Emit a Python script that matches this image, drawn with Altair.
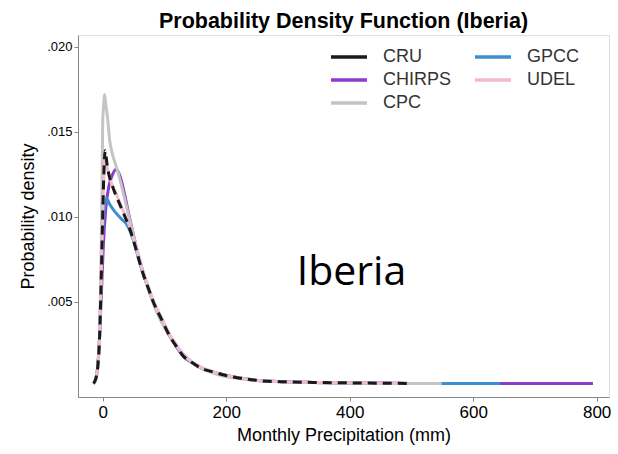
import altair as alt
import pandas as pd

# ---- data ----
series_order = ["CRU", "CHIRPS", "CPC", "GPCC", "UDEL"]  # legend fill order (column-major)
series_colors = ["#1a1a1a", "#8a3dc8", "#c4c4c4", "#3d8fd1", "#f2bcd0"]

cru_x = [-15, -11, -8, -5, -3, -1, 1, 3, 4, 7, 10, 15, 20, 27, 35, 42, 50, 57, 65, 73, 82, 95, 107, 119, 131, 144, 160, 177, 195, 210, 235, 258, 290, 340, 400, 450, 501]
cru_y = [0.0002, 0.0005, 0.0012, 0.003, 0.0055, 0.0085, 0.0115, 0.0135, 0.0139, 0.0131, 0.0125, 0.0119, 0.0114, 0.0108, 0.0101, 0.0095, 0.0086, 0.0077, 0.0067, 0.0059, 0.0050, 0.0040, 0.0031, 0.0024, 0.0018, 0.00145, 0.0011, 0.0009, 0.00072, 0.0006, 0.00045, 0.00036, 0.00031, 0.00027, 0.00024, 0.00022, 0.00021]

udel_x = [-15, -11, -8, -5, -3, -1, 1, 3, 4, 7, 10, 15, 20, 27, 35, 42, 50, 57, 65, 73, 82, 95, 107, 119, 131, 144, 160, 177, 195, 210, 235, 258, 290, 340, 400, 480]
udel_y = [0.0002, 0.0005, 0.0012, 0.0031, 0.0056, 0.0086, 0.0114, 0.0133, 0.0136, 0.0130, 0.0125, 0.0119, 0.0115, 0.0109, 0.0102, 0.0096, 0.0087, 0.0078, 0.0068, 0.0060, 0.0051, 0.0041, 0.0032, 0.0025, 0.0019, 0.0015, 0.00115, 0.00092, 0.00073, 0.00061, 0.00046, 0.00037, 0.00031, 0.00027, 0.00024, 0.00021]

cpc_x = [-15, -11, -8, -5, -3, -1, 0, 2, 3, 5, 8, 11, 15, 19, 25, 32, 40, 50, 60, 70, 80, 90, 100, 112, 124, 137, 150, 165, 180, 195, 210, 235, 258, 290, 340, 400, 450, 500, 549]
cpc_y = [0.0002, 0.0005, 0.0012, 0.0032, 0.0065, 0.0120, 0.0155, 0.0168, 0.0172, 0.0166, 0.0158, 0.0146, 0.0138, 0.0133, 0.0126, 0.0116, 0.0104, 0.0089, 0.0075, 0.0062, 0.0051, 0.0042, 0.0035, 0.0028, 0.0022, 0.0017, 0.0013, 0.0010, 0.0008, 0.00065, 0.00055, 0.00042, 0.00035, 0.0003, 0.00026, 0.00024, 0.00022, 0.00021, 0.0002]

chirps_x = [-15, -11, -8, -5, -2, 1, 5, 10, 16, 22, 28, 35, 42, 50, 57, 65, 73, 82, 95, 107, 119, 131, 144, 160, 177, 195, 210, 235, 258, 290, 340, 400, 500, 600, 700, 794]
chirps_y = [0.0002, 0.0005, 0.0012, 0.003, 0.0056, 0.0083, 0.0105, 0.0118, 0.0125, 0.0128, 0.0124, 0.0114, 0.0102, 0.0089, 0.0078, 0.0068, 0.0059, 0.0050, 0.0040, 0.0031, 0.0024, 0.0018, 0.00145, 0.0011, 0.0009, 0.00072, 0.0006, 0.00045, 0.00036, 0.00031, 0.00027, 0.00024, 0.00021, 0.0002, 0.0002, 0.0002]

gpcc_x = [-15, -11, -8, -5, -3, -1, 2, 6, 12, 20, 30, 40, 45, 50, 57, 65, 73, 82, 95, 107, 119, 131, 144, 160, 177, 195, 210, 235, 258, 290, 340, 400, 500, 600, 643]
gpcc_y = [0.0002, 0.0005, 0.0012, 0.003, 0.0055, 0.0082, 0.0102, 0.0111, 0.0107, 0.0103, 0.0099, 0.0095, 0.0091, 0.0086, 0.0077, 0.0067, 0.0059, 0.0050, 0.0040, 0.0031, 0.0024, 0.0018, 0.00145, 0.0011, 0.0009, 0.00072, 0.0006, 0.00045, 0.00036, 0.00031, 0.00027, 0.00024, 0.00021, 0.0002, 0.0002]

x_ticks = [0, 200, 400, 600, 800]
y_ticks = [0.005, 0.010, 0.015, 0.020]

annot_text = ["Iberia"]
annot_x = [403]
annot_y = [0.0060]

# ---- build tables ----
frames = []
for name, xs, ys in [("CRU", cru_x, cru_y), ("UDEL", udel_x, udel_y), ("CPC", cpc_x, cpc_y),
                     ("CHIRPS", chirps_x, chirps_y), ("GPCC", gpcc_x, gpcc_y)]:
    frames.append(pd.DataFrame({"series": name, "precip": xs, "density": ys}))
df = pd.concat(frames, ignore_index=True)
annot = pd.DataFrame({"label": annot_text, "x": annot_x, "y": annot_y})

color_scale = alt.Scale(domain=series_order, range=series_colors)
x_enc = alt.X("precip:Q", scale=alt.Scale(domain=[-40, 820], nice=False, zero=False),
              axis=alt.Axis(values=x_ticks, title="Monthly Precipitation (mm)", grid=False,
                            labelFontSize=17, titleFontSize=18, tickSize=4, labelPadding=3,
                            titlePadding=6, titleFontWeight="normal"))
y_enc = alt.Y("density:Q", scale=alt.Scale(domain=[-0.00059, 0.0207], nice=False, zero=False),
              axis=alt.Axis(values=y_ticks, title="Probability density", grid=False,
                            labelExpr="replace(format(datum.value, '.3f'), '0.', '.')",
                            labelFontSize=13, titleFontSize=18, tickSize=4, labelPadding=2,
                            titlePadding=9, titleFontWeight="normal"))

legend = alt.Legend(title=None, orient="none", legendX=260, legendY=11, columns=2,
                    direction="vertical", symbolType="M-2,0L2,0", symbolSize=324,
                    symbolStrokeWidth=3.5, symbolDash=[1, 0], labelFontSize=18,
                    labelColor="#333333", labelFont="Liberation Sans", labelOffset=23,
                    columnPadding=16, rowPadding=3, padding=0)

layers = []
draw_order = ["CHIRPS", "GPCC", "CPC", "UDEL", "CRU"]
for name in draw_order:
    mark_kwargs = dict(strokeWidth=3, interpolate="monotone")
    if name == "CRU":
        mark_kwargs["strokeDash"] = [9, 6]
    layer = alt.Chart(df).transform_filter(alt.datum.series == name).mark_line(**mark_kwargs).encode(
        x=x_enc, y=y_enc,
        color=alt.Color("series:N", scale=color_scale, legend=legend),
    )
    layers.append(layer)

text = alt.Chart(annot).mark_text(font="Open Sans", fontSize=41, align="center",
                                   baseline="alphabetic", color="black").encode(
    x=alt.X("x:Q"), y=alt.Y("y:Q"), text="label:N")

chart = alt.layer(*layers, text).properties(
    width=531, height=362,
    title=alt.TitleParams("Probability Density Function  (Iberia)", fontSize=21.5,
                          font="Liberation Sans", fontWeight="bold", anchor="middle",
                          offset=3, color="black"),
    autosize=alt.AutoSizeParams(type="none"),
    padding={"left": 78, "top": 35, "right": 9, "bottom": 57},
).configure_view(stroke="#333333", strokeWidth=2).configure_axis(
    domain=False, tickColor="#555555", labelColor="#555555", titleColor="#444444",
    labelFont="Liberation Sans", titleFont="Liberation Sans"
).configure(background="white")

chart.save("out.html", embed_options={"renderer": "svg", "actions": False})
